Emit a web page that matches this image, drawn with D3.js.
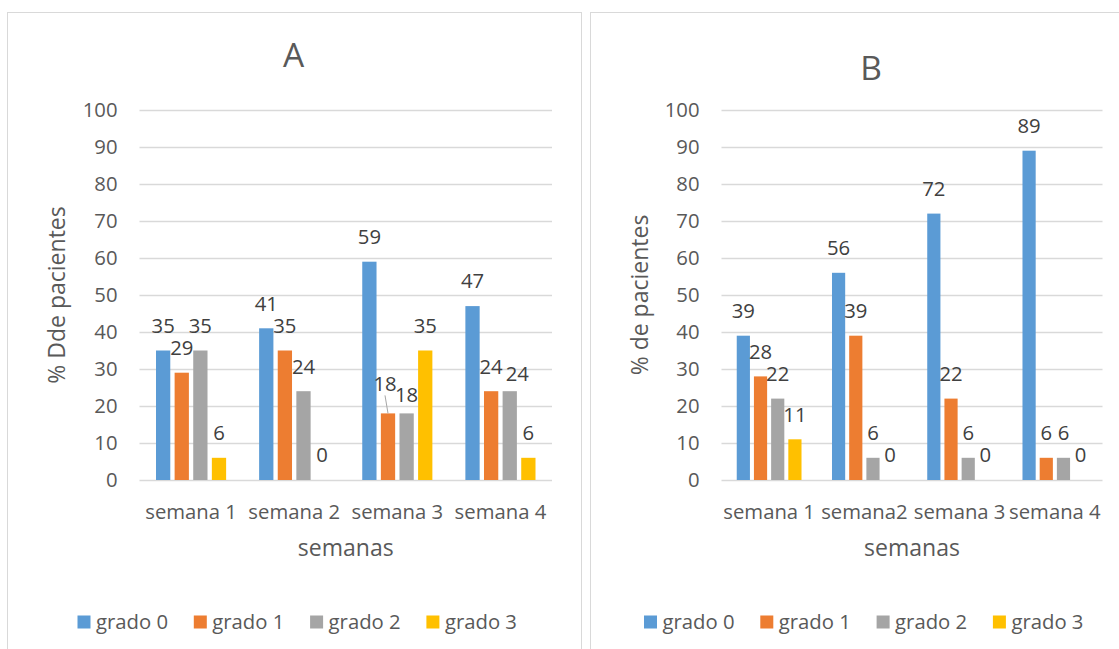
<!DOCTYPE html>
<html>
<head>
<meta charset="utf-8">
<script src="https://cdn.jsdelivr.net/npm/d3@7"></script>
<style>
  html, body { margin: 0; padding: 0; background: #ffffff; }
  svg { display: block; font-family: "Open Sans", "DejaVu Sans", sans-serif; }
</style>
</head>
<body>
<svg id="chart" width="1119" height="649"></svg>
<script>
// ---- data ----
const series = ["grado 0", "grado 1", "grado 2", "grado 3"];
const categoriesA = ["semana 1", "semana 2", "semana 3", "semana 4"];
const categoriesB = ["semana 1", "semana2", "semana 3", "semana 4"];

// Panel A: % de pacientes per grado, by semana
const aGrado0 = [35, 41, 59, 47];
const aGrado1 = [29, 35, 18, 24];
const aGrado2 = [35, 24, 18, 24];
const aGrado3 = [6, 0, 35, 6];

// Panel B
const bGrado0 = [39, 56, 72, 89];
const bGrado1 = [28, 39, 22, 6];
const bGrado2 = [22, 6, 6, 6];
const bGrado3 = [11, 0, 0, 0];

const yTicks = [0, 10, 20, 30, 40, 50, 60, 70, 80, 90, 100];

const colors = ["#5b9bd5", "#ed7d31", "#a5a5a5", "#ffc000"];

// ---- layout ----
const panels = [
  {
    title: "A", yTitle: "% Dde pacientes", xTitle: "semanas",
    categories: categoriesA,
    values: [aGrado0, aGrado1, aGrado2, aGrado3],
    frame: { x: 7.5, y: 12.5, w: 574, h: 700 },
    plot: { left: 139.5, right: 552, top: 110, bottom: 480 },
    titlePos: { x: 293.5, y: 67 },
    yTitleX: 57,
    legendX: 77.5,
    // hand-placed labels: [category, series, dx, dy]
    nudges: [[2, 1, -3, -5], [2, 2, 0, 6.5], [3, 2, 7.5, 7]],
    leader: [2, 1]
  },
  {
    title: "B", yTitle: "% de pacientes", xTitle: "semanas",
    categories: categoriesB,
    values: [bGrado0, bGrado1, bGrado2, bGrado3],
    frame: { x: 590.5, y: 12.5, w: 560, h: 700 },
    plot: { left: 721.5, right: 1102.5, top: 110, bottom: 480 },
    titlePos: { x: 871, y: 80 },
    yTitleX: 640,
    legendX: 644,
    nudges: [],
    leader: null
  }
];

const svg = d3.select("#chart");
const textColor = "#595959";
const labelColor = "#404040";

panels.forEach(p => {
  const g = svg.append("g");

  // frame
  g.append("rect")
    .attr("x", p.frame.x).attr("y", p.frame.y)
    .attr("width", p.frame.w).attr("height", p.frame.h)
    .attr("fill", "#ffffff").attr("stroke", "#d9d9d9").attr("stroke-width", 1);

  const y = d3.scaleLinear().domain([0, 100]).range([p.plot.bottom, p.plot.top]);
  const x0 = d3.scaleBand().domain(p.categories)
    .range([p.plot.left, p.plot.right]).paddingInner(0).paddingOuter(0);
  const groupW = x0.bandwidth() * 0.68;
  const x1 = d3.scaleBand().domain(series)
    .range([(x0.bandwidth() - groupW) / 2, (x0.bandwidth() + groupW) / 2])
    .paddingInner(0.233).paddingOuter(0);

  // gridlines
  g.append("g").selectAll("line").data(yTicks).join("line")
    .attr("x1", p.plot.left).attr("x2", p.plot.right)
    .attr("y1", d => Math.round(y(d)) + 0.5).attr("y2", d => Math.round(y(d)) + 0.5)
    .attr("stroke", "#d9d9d9").attr("stroke-width", 1.3);

  // y axis tick labels
  const yAxis = d3.axisLeft(y).tickValues(yTicks).tickSize(0).tickPadding(22);
  const ya = g.append("g").attr("transform", `translate(${p.plot.left},0)`).call(yAxis);
  ya.select(".domain").remove();
  ya.selectAll("text").attr("font-size", 20.3).attr("fill", textColor)
    .attr("font-family", "Open Sans");

  // x axis category labels
  const xAxis = d3.axisBottom(x0).tickSize(0).tickPadding(0);
  const xa = g.append("g").attr("transform", `translate(0,${p.plot.bottom})`).call(xAxis);
  xa.select(".domain").remove();
  xa.selectAll("text").attr("font-size", 20.3).attr("fill", textColor)
    .attr("font-family", "Open Sans").attr("dy", null).attr("y", 38.5);

  // bars
  const rows = p.categories.map((c, ci) => ({ c, ci, vals: series.map((s, si) => ({ s, si, v: p.values[si][ci] })) }));
  const groups = g.append("g").selectAll("g").data(rows).join("g")
    .attr("transform", d => `translate(${x0(d.c)},0)`);
  groups.selectAll("rect").data(d => d.vals).join("rect")
    .attr("x", d => x1(d.s)).attr("width", x1.bandwidth())
    .attr("y", d => y(d.v)).attr("height", d => y(0) - y(d.v))
    .attr("fill", d => colors[d.si]);

  // value labels
  const nudge = (ci, si) => {
    const n = p.nudges.find(k => k[0] === ci && k[1] === si);
    return n ? [n[2], n[3]] : [0, 0];
  };
  groups.each(function (row) {
    const gg = d3.select(this);
    row.vals.forEach(d => {
      const [dx, dy] = nudge(row.ci, d.si);
      const cx = x1(d.s) + x1.bandwidth() / 2 + dx;
      const cy = y(d.v) - 25 + dy;
      gg.append("text")
        .attr("x", cx).attr("y", cy).attr("dy", "0.36em")
        .attr("text-anchor", "middle")
        .attr("font-size", 20.3).attr("fill", labelColor)
        .text(d.v);
      if (p.leader && p.leader[0] === row.ci && p.leader[1] === d.si) {
        gg.append("line")
          .attr("x1", cx).attr("y1", cy + 12)
          .attr("x2", x1(d.s) + x1.bandwidth() / 2).attr("y2", y(d.v))
          .attr("stroke", "#a6a6a6").attr("stroke-width", 1);
      }
    });
  });

  // chart title
  g.append("text").attr("x", p.titlePos.x).attr("y", p.titlePos.y)
    .attr("text-anchor", "middle").attr("font-size", 33.5).attr("fill", textColor)
    .text(p.title);

  // axis titles
  g.append("text")
    .attr("transform", `translate(${p.yTitleX},${(p.plot.top + p.plot.bottom) / 2}) rotate(-90)`)
    .attr("text-anchor", "middle").attr("dy", "0.35em")
    .attr("font-size", 23).attr("fill", textColor)
    .text(p.yTitle);
  g.append("text")
    .attr("x", (p.plot.left + p.plot.right) / 2).attr("y", 556)
    .attr("text-anchor", "middle").attr("font-size", 23).attr("fill", textColor)
    .text(p.xTitle);

  // legend
  const lg = g.append("g").attr("transform", `translate(${p.legendX},0)`);
  const items = lg.selectAll("g").data(series).join("g")
    .attr("transform", (d, i) => `translate(${i * 116.3},0)`);
  items.append("rect").attr("x", 0).attr("y", 615.5).attr("width", 13).attr("height", 13)
    .attr("fill", (d, i) => colors[i]);
  items.append("text").attr("x", 18.5).attr("y", 629)
    .attr("font-size", 20.3).attr("fill", textColor).text(d => d);
});
</script>
</body>
</html>
